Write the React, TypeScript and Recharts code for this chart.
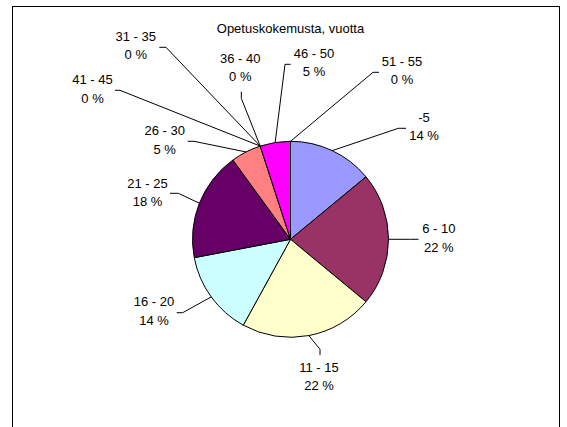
import React from 'react';
import { PieChart, Pie, Cell } from 'recharts';

const CATEGORIES = ['-5', '6 - 10', '11 - 15', '16 - 20', '21 - 25', '26 - 30', '31 - 35', '36 - 40', '41 - 45', '46 - 50', '51 - 55'];
const SHARES = [14, 22, 22, 14, 18, 5, 0, 0, 0, 5, 0];
const COLORS = ['#9999FF', '#993366', '#FFFFCC', '#CCFFFF', '#660066', '#FF8080', '#0066CC', '#CCCCFF', '#000080', '#FF00FF', '#FFFF00'];

// label placement relative to pie centre: text centre x, line centres y, leader elbow and end
const LABEL_POS = [
  { tx: 133.5, ty: -113, ex: 107.8, ey: -111, lx: 115.5, ly: -111 },
  { tx: 148.3, ty: -1.5, ex: 120, ey: 0, lx: 128, ly: 0 },
  { tx: 28.5, ty: 137, ex: 29.5, ey: 110, lx: 29.5, ly: 115.7 },
  { tx: -136.5, ty: 71.5, ex: -107.8, ey: 73.4, lx: -113.8, ly: 73.4 },
  { tx: -143, ty: -46.8, ex: -112.2, ey: -46, lx: -120.5, ly: -46 },
  { tx: -125.8, ty: -99.6, ex: -96.5, ey: -98, lx: -102.8, ly: -98 },
  { tx: -154.7, ty: -193.8, ex: -124.5, ey: -192, lx: -131.2, ly: -192 },
  { tx: -50.2, ty: -171.8, ex: -49.2, ey: -141, lx: -49.2, ly: -147.6 },
  { tx: -198, ty: -150.5, ex: -170.5, ey: -149, lx: -175.5, ly: -149 },
  { tx: 23.5, ty: -176.8, ex: -5.5, ey: -175, lx: 0.2, ly: -175 },
  { tx: 111.5, ty: -169, ex: 82.5, ey: -167, lx: 88.5, ly: -167 },
];

const data = CATEGORIES.map((name, i) => ({ name, value: SHARES[i] }));

const FONT = '"Liberation Sans", Arial, sans-serif';
const RAD = Math.PI / 180;

function renderLabel(props: any) {
  const { cx, cy, midAngle, outerRadius, index } = props;
  const pos = LABEL_POS[index];
  const sx = cx + outerRadius * Math.cos(-midAngle * RAD);
  const sy = cy + outerRadius * Math.sin(-midAngle * RAD);
  const tx = cx + pos.tx;
  const ty = cy + pos.ty;
  return (
    <g key={`lbl-${index}`}>
      <polyline
        points={`${sx},${sy} ${cx + pos.ex},${cy + pos.ey} ${cx + pos.lx},${cy + pos.ly}`}
        fill="none"
        stroke="#000"
        strokeWidth={1}
      />
      <text x={tx} y={ty - 9.2 + 4.6} textAnchor="middle" fontSize={13} fontFamily={FONT} fill="#000">
        {CATEGORIES[index]}
      </text>
      <text x={tx} y={ty + 9.2 + 4.6} textAnchor="middle" fontSize={13} fontFamily={FONT} fill="#000">
        {`${SHARES[index]} %`}
      </text>
    </g>
  );
}

export default function App() {
  return (
    <div style={{ position: 'absolute', left: 0, top: 0, width: 567, height: 427, background: '#fff', overflow: 'hidden' }}>
      {/* chart frame, bottom edge runs off the page */}
      <div
        style={{
          position: 'absolute',
          left: 12,
          top: 6,
          width: 546,
          height: 500,
          border: '1.5px solid #000',
        }}
      />
      <div
        style={{
          position: 'absolute',
          left: 0,
          top: 20,
          width: 581,
          textAlign: 'center',
          fontFamily: FONT,
          fontSize: 13,
          lineHeight: '17px',
          color: '#000',
        }}
      >
        Opetuskokemusta, vuotta
      </div>
      <div style={{ position: 'absolute', left: 0, top: 0 }}>
        <PieChart width={567} height={427} margin={{ top: 0, right: 0, bottom: 0, left: 0 }}>
          <Pie
            data={data}
            dataKey="value"
            nameKey="name"
            cx={290.5}
            cy={239.3}
            outerRadius={98}
            startAngle={90}
            endAngle={-270}
            stroke="#000"
            strokeWidth={1}
            label={renderLabel}
            labelLine={false}
            isAnimationActive={false}
          >
            {data.map((d, i) => (
              <Cell key={d.name} fill={COLORS[i]} />
            ))}
          </Pie>
        </PieChart>
      </div>
    </div>
  );
}
